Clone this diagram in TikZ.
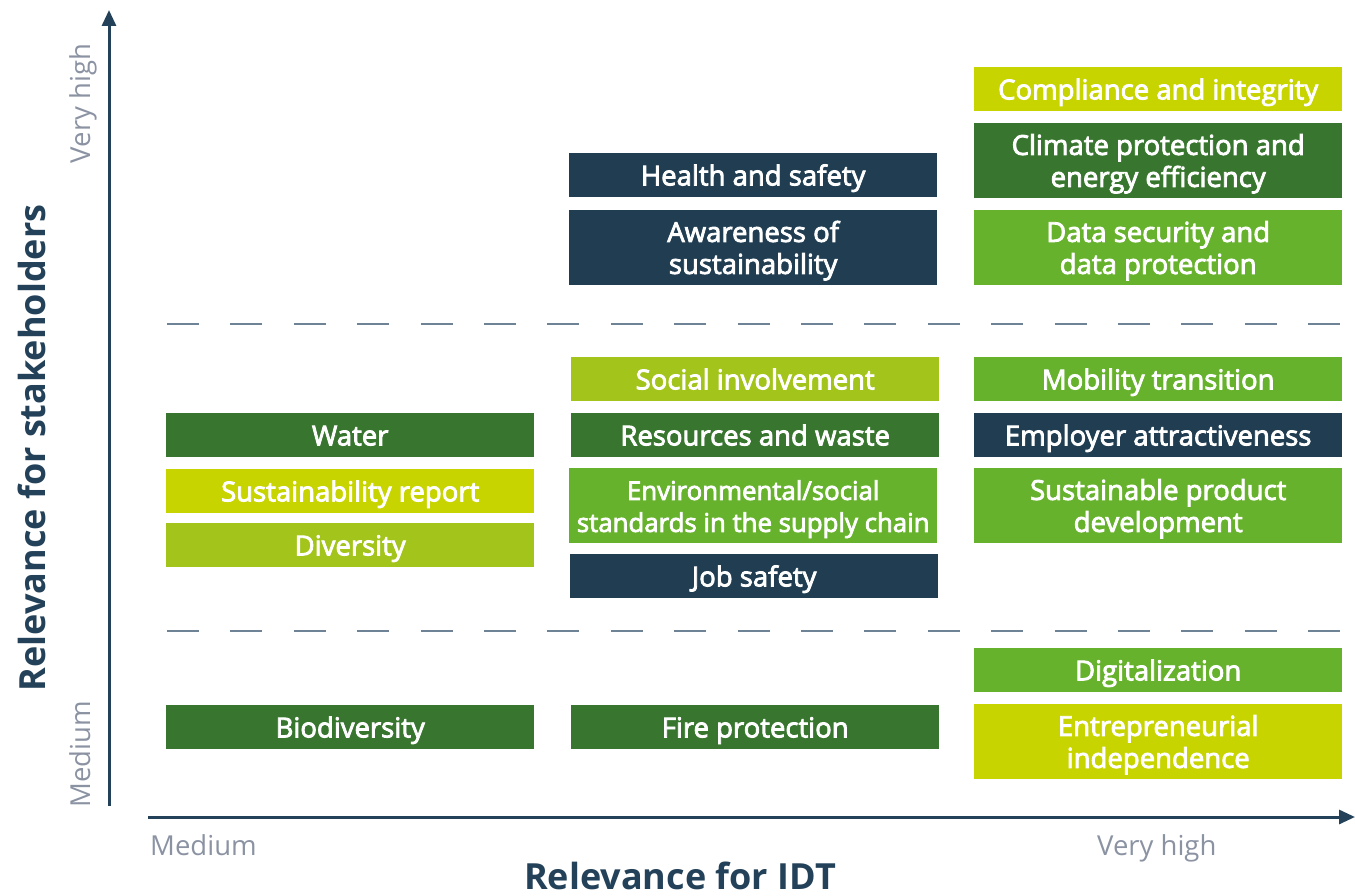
\documentclass[tikz,border=0pt]{standalone}
\usepackage{fontspec}
\setmainfont{Open Sans}
\newfontfamily\semib[FakeBold=3]{Open Sans}
\usetikzlibrary{arrows.meta}
\definecolor{navy}{HTML}{203D52}
\definecolor{dgreen}{HTML}{38762F}
\definecolor{mgreen}{HTML}{67B22D}
\definecolor{olive}{HTML}{A2C41B}
\definecolor{lime}{HTML}{C8D400}
\definecolor{lgray}{HTML}{8B93A3}
\definecolor{axisc}{HTML}{234158}
\definecolor{dashc}{HTML}{6E8496}
\newcommand\dn[1]{\raisebox{-3pt}[21pt][6.6pt]{#1}}
\tikzset{
  box/.style={anchor=north west, inner sep=0pt, minimum width=368pt, text=white, align=center, font=\semib\fontsize{27.5}{32}\selectfont},
  one/.style={box, minimum height=44pt},
  two/.style={box, minimum height=75pt},
  lab/.style={text=lgray, font=\fontsize{27.5}{32}\selectfont, inner sep=0pt},
  title/.style={text=axisc, font=\fontsize{36}{40}\selectfont\bfseries, inner sep=0pt},
  sep/.style={draw=dashc, line width=2pt, dash pattern=on 32pt off 31.4pt},
  axis/.style={draw=axisc, line width=3pt, -{Triangle[length=16pt,width=14pt]}}
}
\begin{document}
\begin{tikzpicture}[x=1pt,y=-1pt]
\useasboundingbox (0,0) rectangle (1355,896);
% axes
\coordinate (yo) at (109,806);
\coordinate (yt) at (109,10);
\coordinate (xo) at (148,817);
\coordinate (xt) at (1355,817);
\draw[axis] (yo) -- (yt);
\draw[axis] (xo) -- (xt);
% separators
\coordinate (s1a) at (167,324); \coordinate (s1b) at (1341,324);
\coordinate (s2a) at (167,631); \coordinate (s2b) at (1341,631);
\draw[sep] (s1a) -- (s1b);
\draw[sep] (s2a) -- (s2b);
% axis labels
\node[lab, rotate=90, anchor=base] (yvh) at (90,103.5) {Very high};
\node[lab, rotate=90, anchor=base] (ymed) at (90,754) {Medium};
\node[lab, anchor=base west] (xmed) at (150,855) {Medium};
\node[lab, anchor=base west] (xvh) at (1097,855) {Very high};
\node[title, rotate=90, anchor=base] (ytitle) at (45,448) {Relevance for stakeholders};
\node[title, anchor=base] (xtitle) at (680,889) {Relevance for IDT};
% column 3
\node[one, fill=lime] (c1) at (974,67) {\dn{Compliance and integrity}};
\node[two, fill=dgreen] (c2) at (974,123) {\dn{Climate protection and}\\\dn{energy efficiency}};
\node[two, fill=mgreen] (c3) at (974,210) {\dn{Data security and}\\\dn{data protection}};
\node[one, fill=mgreen] (c4) at (974,357) {\dn{Mobility transition}};
\node[one, fill=navy] (c5) at (974,413) {\dn{Employer attractiveness}};
\node[two, fill=mgreen] (c6) at (974,468) {\dn{Sustainable product}\\\dn{development}};
\node[one, fill=mgreen] (c7) at (974,648) {\dn{Digitalization}};
\node[two, fill=lime] (c8) at (974,704) {\dn{Entrepreneurial}\\\dn{independence}};
% column 2
\node[one, fill=navy] (b1) at (569,153) {\dn{Health and safety}};
\node[two, fill=navy] (b2) at (569,210) {\dn{Awareness of}\\\dn{sustainability}};
\node[one, fill=olive] (b3) at (571,357) {\dn{Social involvement}};
\node[one, fill=dgreen] (b4) at (571,413) {\dn{Resources and waste}};
\node[two, fill=mgreen, font=\semib\fontsize{25.8}{32}\selectfont] (b5) at (569,468) {\dn{Environmental/social}\\\dn{standards in the supply chain}};
\node[one, fill=navy] (b6) at (570,554) {\dn{Job safety}};
\node[one, fill=dgreen] (b7) at (571,705) {\dn{Fire protection}};
% column 1
\node[one, fill=dgreen] (a1) at (166,413) {\dn{Water}};
\node[one, fill=lime] (a2) at (166,469) {\dn{Sustainability report}};
\node[one, fill=olive] (a3) at (166,523) {\dn{Diversity}};
\node[one, fill=dgreen] (a4) at (166,705) {\dn{Biodiversity}};
\end{tikzpicture}
\end{document}
